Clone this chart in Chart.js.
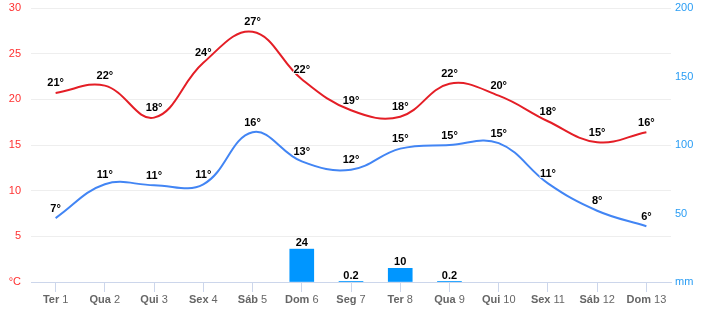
<!DOCTYPE html>
<html>
<head>
<meta charset="utf-8">
<script src="https://cdn.jsdelivr.net/npm/chart.js@4"></script>
<style>
  html, body { margin: 0; padding: 0; background: #fff; }
  #wrap { width: 702px; height: 322px; }
</style>
</head>
<body>
<div id="wrap"><canvas id="chartCanvas" width="702" height="322"></canvas></div>
<script>
// dias da previsão
const days = ['Ter 1', 'Qua 2', 'Qui 3', 'Sex 4', 'Sáb 5', 'Dom 6', 'Seg 7',
              'Ter 8', 'Qua 9', 'Qui 10', 'Sex 11', 'Sáb 12', 'Dom 13'];
// temperatura máxima / mínima (°C)
const tempMax = [20.7, 21.5, 18.0, 24.0, 27.4, 22.2, 18.8, 18.1, 21.7, 20.4, 17.6, 15.3, 16.4];
const tempMin = [7.0, 10.7, 10.6, 10.7, 16.4, 13.2, 12.3, 14.6, 15.0, 15.2, 10.8, 7.8, 6.1];
// precipitação (mm)
const rain = [null, null, null, null, null, 24, 0.2, 10, 0.2, null, null, null, null];

const tempTicks = [0, 5, 10, 15, 20, 25, 30];
const rainTicks = [0, 50, 100, 150, 200];

const FONT = 'Arial, "Liberation Sans", sans-serif';

// rótulos de valor e rótulos do eixo x (dia em negrito, número normal)
const labelsPlugin = {
    id: 'valueLabels',
    afterDatasetsDraw(chart) {
        const ctx = chart.ctx;
        ctx.save();
        ctx.textAlign = 'center';
        ctx.textBaseline = 'middle';
        ctx.font = 'bold 11px ' + FONT;
        ctx.lineJoin = 'round';
        chart.data.datasets.forEach((ds, i) => {
            const meta = chart.getDatasetMeta(i);
            meta.data.forEach((el, j) => {
                const v = ds.data[j];
                if (v === null || v === undefined) return;
                let text, y;
                if (ds.type === 'bar') {
                    text = String(v);
                    y = el.y - 6;
                } else {
                    text = Math.round(v) + '°';
                    y = el.y - 9.5;
                }
                ctx.strokeStyle = 'rgba(255,255,255,0.9)';
                ctx.lineWidth = 2;
                ctx.strokeText(text, el.x, y);
                ctx.fillStyle = '#000';
                ctx.fillText(text, el.x, y);
            });
        });

        // eixo x
        const xs = chart.scales.x;
        ctx.fillStyle = '#666';
        ctx.textAlign = 'left';
        days.forEach((d, i) => {
            const parts = d.split(' ');
            const cx = xs.getPixelForValue(i);
            ctx.font = 'bold 11px ' + FONT;
            const w1 = ctx.measureText(parts[0] + ' ').width;
            ctx.font = '11px ' + FONT;
            const w2 = ctx.measureText(parts[1]).width;
            const x0 = cx - (w1 + w2) / 2;
            ctx.font = 'bold 11px ' + FONT;
            ctx.fillText(parts[0] + ' ', x0, 299.5);
            ctx.font = '11px ' + FONT;
            ctx.fillText(parts[1], x0 + w1, 299.5);
        });
        ctx.restore();
    }
};

// largura fixa dos eixos verticais e margem superior fixa
function fitVertical(scale) {
    scale.width = 31;
    scale.paddingTop = 8;
    scale.paddingBottom = 0;
}

const ctx = document.getElementById('chartCanvas').getContext('2d');
const chart = new Chart(ctx, {
    data: {
        labels: days,
        datasets: [
            {
                type: 'line',
                label: 'Máx',
                data: tempMax,
                yAxisID: 'y',
                borderColor: '#e41e26',
                borderWidth: 2,
                pointRadius: 0,
                tension: 0.4,
                fill: false,
                order: 1
            },
            {
                type: 'line',
                label: 'Mín',
                data: tempMin,
                yAxisID: 'y',
                borderColor: '#4285f4',
                borderWidth: 2,
                pointRadius: 0,
                tension: 0.4,
                fill: false,
                order: 2
            },
            {
                type: 'bar',
                label: 'Precipitação',
                data: rain,
                yAxisID: 'y1',
                backgroundColor: '#0096ff',
                barThickness: 24,
                order: 3
            }
        ]
    },
    options: {
        responsive: false,
        animation: false,
        layout: { autoPadding: false, padding: 0 },
        plugins: {
            legend: { display: false },
            tooltip: { enabled: false }
        },
        scales: {
            x: {
                offset: true,
                grid: {
                    offset: false,
                    drawOnChartArea: false,
                    drawTicks: true,
                    tickLength: 10,
                    tickColor: '#ccd6eb'
                },
                border: { color: '#ccd6eb', width: 1 },
                ticks: { color: 'rgba(0,0,0,0)', font: { size: 11, family: FONT } },
                afterFit(scale) { scale.height = 40; }
            },
            y: {
                position: 'left',
                min: 0,
                max: 30,
                afterBuildTicks(scale) { scale.ticks = tempTicks.map(v => ({ value: v })); },
                grid: { color: '#eeeeee', drawTicks: false },
                border: { display: false },
                ticks: {
                    color: '#ff3030',
                    padding: 10,
                    font: { size: 11, family: FONT },
                    callback: v => (v === 0 ? '°C' : v)
                },
                afterFit: fitVertical
            },
            y1: {
                position: 'right',
                min: 0,
                max: 200,
                afterBuildTicks(scale) { scale.ticks = rainTicks.map(v => ({ value: v })); },
                grid: { drawOnChartArea: false, drawTicks: false },
                border: { display: false },
                ticks: {
                    color: '#2a9df4',
                    padding: 4,
                    font: { size: 11, family: FONT },
                    callback: v => (v === 0 ? 'mm' : v)
                },
                afterFit: fitVertical
            }
        }
    },
    plugins: [labelsPlugin]
});
</script>
</body>
</html>
